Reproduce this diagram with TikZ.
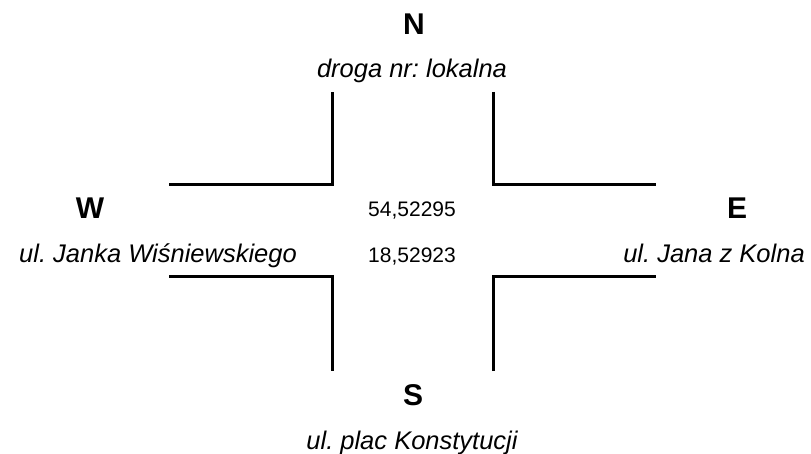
\documentclass[tikz,border=0pt]{standalone}
\usepackage{fontspec}
\setmainfont{Liberation Sans}
\frenchspacing

\tikzset{
  side/.style={font=\fontsize{30}{33}\selectfont\bfseries, inner sep=0pt},
  road/.style={font=\fontsize{25.5}{28}\selectfont\itshape, inner sep=0pt, anchor=base},
  coord/.style={font=\fontsize{21}{24}\selectfont, inner sep=0pt, anchor=base},
  kerb/.style={line width=3pt}
}

\begin{document}
\begin{tikzpicture}[x=1pt,y=-1pt]
\useasboundingbox (0,0) rectangle (811,454);

\node[side] (n) at (414,24) {N};
\node[road] (nroad) at (412,78) {droga nr: lokalna};
\node[side] (w) at (90,208) {W};
\node[road] (wroad) at (158,263) {ul. Janka Wiśniewskiego};
\node[side] (e) at (737,208) {E};
\node[road] (eroad) at (714,263) {ul. Jana z Kolna};
\node[side] (s) at (413,395) {S};
\node[road] (sroad) at (412,449) {ul. plac Konstytucji};
\node[coord] (lat) at (412,217) {54,52295};
\node[coord] (lon) at (412,263) {18,52923};

\draw[kerb] (169,185) -- (332,185) -- (332,92);
\draw[kerb] (493,92) -- (493,185) -- (656,185);
\draw[kerb] (169,277) -- (332,277) -- (332,371);
\draw[kerb] (493,371) -- (493,277) -- (656,277);
\end{tikzpicture}
\end{document}
